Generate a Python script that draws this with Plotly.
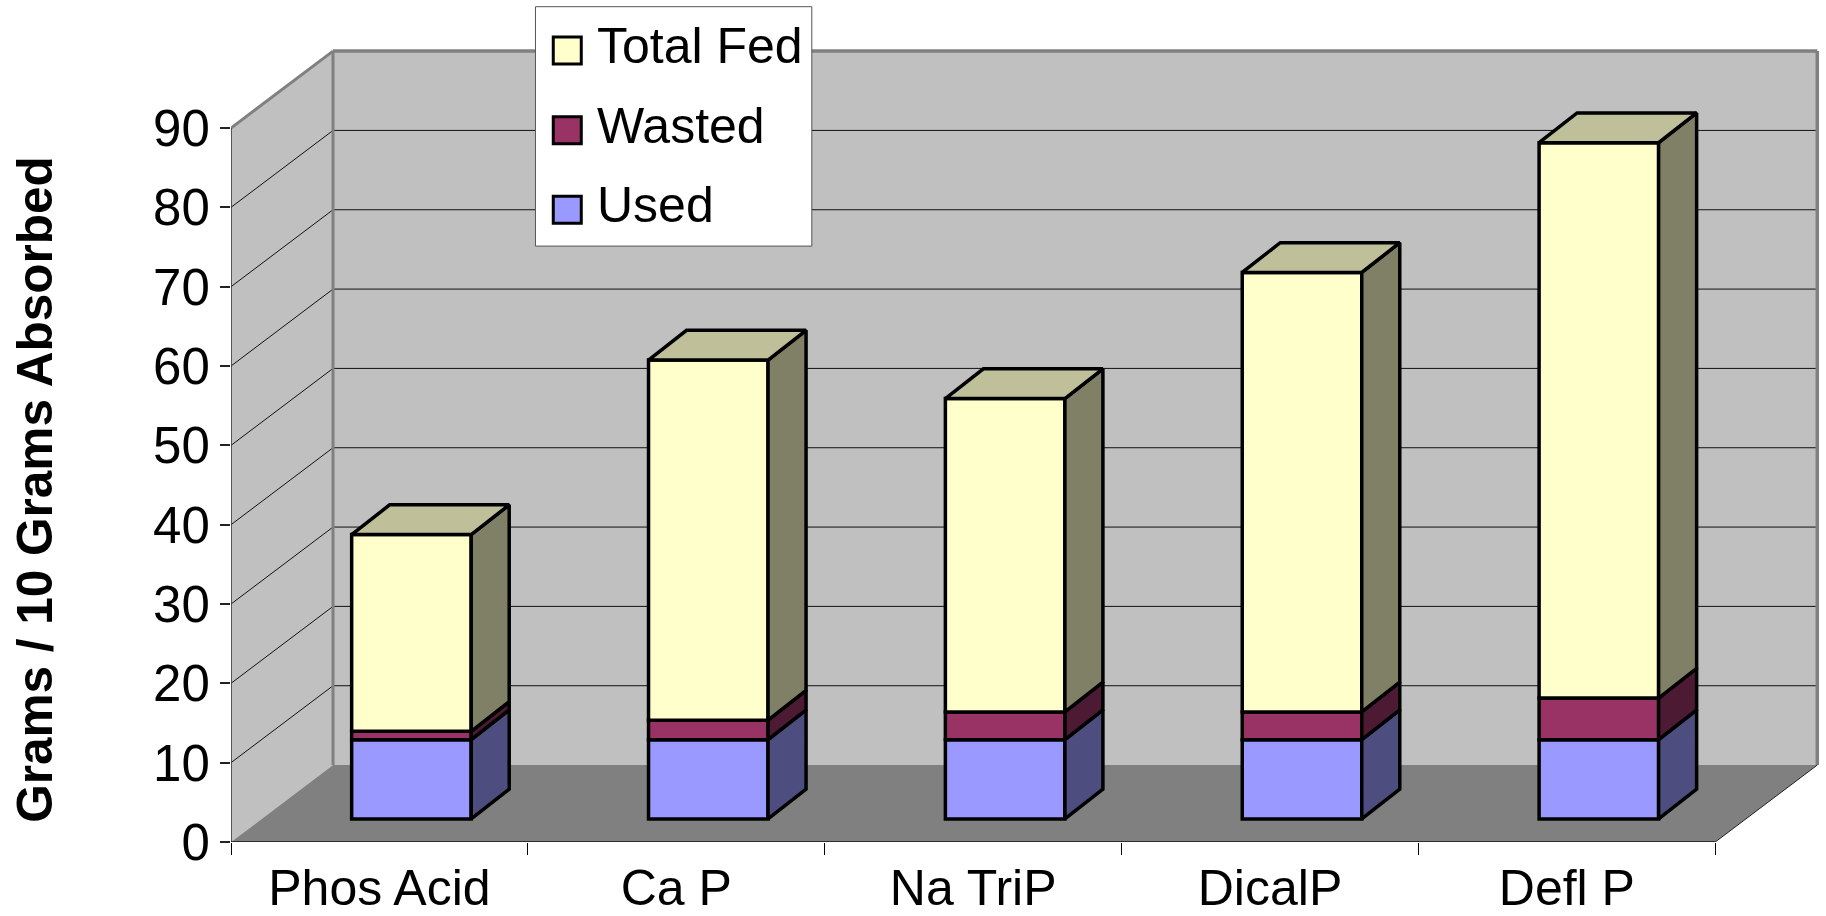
import plotly.graph_objects as go

categories = ["Phos Acid", "Ca P", "Na TriP", "DicalP", "Defl P"]
used = [10.0, 10.0, 10.0, 10.0, 10.0]
wasted = [1.05, 2.45, 3.5, 3.5, 5.25]
total_fed = [24.8, 45.4, 39.5, 55.4, 70.0]
y_ticks = [0, 10, 20, 30, 40, 50, 60, 70, 80, 90]
series_names = ["Used", "Wasted", "Total Fed"]
front_colors = ["#9999FF", "#993366", "#FFFFCC"]
side_colors = ["#4D4D80", "#4D1A33", "#808066"]
top_color = "#BFBF99"

# geometry of the oblique plot box
W, H = 1826, 916
L, B_PX = 231.3, 841.7
UX, UY = 296.8, 7.93          # px per category, px per value unit
WALL_DX, WALL_DY = 102 / UX, 9.7
OFF_X, OFF_Y = 32 / UX, 2.9
BAR_W = 119.5 / UX
BAR_DX, BAR_DY = 38 / UX, 3.75
FONT = "Liberation Sans"
N = len(categories)
Y_MAX = y_ticks[-1]
EDGE = 3.5


def px(x):
    return (x - L) / (W - L)


def py(y):
    return (B_PX - y) / B_PX


fig = go.Figure()

# front faces
centers = [i + 0.5 + OFF_X for i in range(N)]
bottoms = [OFF_Y] * N
stack = []
for name, vals, col in zip(series_names, [used, wasted, total_fed], front_colors):
    fig.add_bar(
        x=centers, y=vals, base=list(bottoms), width=BAR_W, name=name,
        marker=dict(color=col, line=dict(color="black", width=EDGE)),
        showlegend=False,
    )
    stack.append((list(bottoms), [b + v for b, v in zip(bottoms, vals)]))
    bottoms = [b + v for b, v in zip(bottoms, vals)]

# side faces
for (lo, hi), name, col in zip(stack, series_names, side_colors):
    xs, ys = [], []
    for c, a, b in zip(centers, lo, hi):
        r = c + BAR_W / 2
        xs += [r, r + BAR_DX, r + BAR_DX, r, r, None]
        ys += [a, a + BAR_DY, b + BAR_DY, b, a, None]
    fig.add_scatter(x=xs, y=ys, mode="lines", fill="toself", fillcolor=col,
                    line=dict(color="black", width=EDGE), name=name + " side",
                    showlegend=False, hoverinfo="skip")

# top faces
xs, ys = [], []
for c, t in zip(centers, stack[-1][1]):
    l, r = c - BAR_W / 2, c + BAR_W / 2
    xs += [l, r, r + BAR_DX, l + BAR_DX, l, None]
    ys += [t, t, t + BAR_DY, t + BAR_DY, t, None]
fig.add_scatter(x=xs, y=ys, mode="lines", fill="toself", fillcolor=top_color,
                line=dict(color="black", width=EDGE), name="top",
                showlegend=False, hoverinfo="skip")

shapes = []


def poly(points, fill, line_color=None, line_width=0, layer="below"):
    path = "M" + " L".join(f"{x},{y}" for x, y in points) + " Z"
    shapes.append(dict(type="path", path=path, xref="x", yref="y", fillcolor=fill,
                       line=dict(color=line_color or fill, width=line_width), layer=layer))


def seg(x0, y0, x1, y1, color="black", width=1):
    shapes.append(dict(type="line", x0=x0, y0=y0, x1=x1, y1=y1, xref="x", yref="y",
                       line=dict(color=color, width=width), layer="below"))


# walls and floor
poly([(WALL_DX, WALL_DY), (N + WALL_DX, WALL_DY), (N + WALL_DX, Y_MAX + WALL_DY),
      (WALL_DX, Y_MAX + WALL_DY)], "#C0C0C0")
poly([(0, 0), (WALL_DX, WALL_DY), (WALL_DX, Y_MAX + WALL_DY), (0, Y_MAX)], "#C0C0C0")
poly([(0, 0), (N, 0), (N + WALL_DX, WALL_DY), (WALL_DX, WALL_DY)], "#808080")

# gridlines
for v in y_ticks[1:-1]:
    seg(WALL_DX, v + WALL_DY, N + WALL_DX, v + WALL_DY, "#111111", 1)
    seg(0, v, WALL_DX, v + WALL_DY, "#111111", 1)

# box edges
GRAY = "#808080"
seg(WALL_DX, WALL_DY, WALL_DX, Y_MAX + WALL_DY, GRAY, 3)
seg(WALL_DX, Y_MAX + WALL_DY, N + WALL_DX, Y_MAX + WALL_DY, GRAY, 3.5)
seg(N + WALL_DX, WALL_DY, N + WALL_DX, Y_MAX + WALL_DY, GRAY, 3.5)
seg(0, Y_MAX, WALL_DX, Y_MAX + WALL_DY, GRAY, 3)
seg(0, 0, 0, Y_MAX, "#333333", 1.5)
seg(0, 0, N, 0, "#111111", 1.5)
seg(N, 0, N + WALL_DX, WALL_DY, "#222222", 1)

# legend
LEG = dict(left=535.7, right=812, top=6.7, bottom=246)
shapes.append(dict(type="rect", xref="paper", yref="paper", x0=px(LEG["left"]), x1=px(LEG["right"]),
                   y0=py(LEG["top"]), y1=py(LEG["bottom"]), fillcolor="white",
                   line=dict(color="#555555", width=1), layer="above"))
annotations = []
for k, (name, col) in enumerate(zip(series_names[::-1], front_colors[::-1])):
    sw_top = 36 + k * 79.6
    shapes.append(dict(type="rect", xref="paper", yref="paper", x0=px(553.5), x1=px(581.5),
                       y0=py(sw_top + 1), y1=py(sw_top + 28), fillcolor=col,
                       line=dict(color="black", width=3), layer="above"))
    annotations.append(dict(text=name, xref="paper", yref="paper", x=px(595), y=py(46 + k * 79.6),
                            xanchor="left", yanchor="middle", showarrow=False,
                            font=dict(family=FONT, size=50, color="black")))

annotations.append(dict(text="<b>Grams / 10 Grams Absorbed</b>", xref="paper", yref="paper",
                        x=px(35), y=py(489), textangle=-90, xanchor="center", yanchor="middle",
                        showarrow=False, font=dict(family=FONT, size=49.5, color="black")))

fig.update_layout(
    width=W, height=H, autosize=False,
    margin=dict(l=L, r=0, t=0, b=H - B_PX, pad=0, autoexpand=False),
    paper_bgcolor="white", plot_bgcolor="white",
    barmode="overlay", showlegend=False,
    shapes=shapes, annotations=annotations,
    xaxis=dict(
        range=[0, (W - L) / UX], showgrid=False, zeroline=False, showline=False,
        automargin=False,
        tickmode="array", tickvals=[i + 0.5 for i in range(N)], ticktext=categories,
        ticks="outside", ticklen=2, tickcolor="rgba(0,0,0,0)",
        tickfont=dict(family=FONT, size=50, color="black"),
        minor=dict(tickmode="array", tickvals=list(range(N + 1)), ticks="outside",
                   ticklen=12, tickcolor="black", tickwidth=1, showgrid=False),
    ),
    yaxis=dict(
        range=[0, B_PX / UY], showgrid=False, zeroline=False, showline=False,
        automargin=False,
        tickmode="array", tickvals=y_ticks, ticks="outside", ticklen=10, tickcolor="#222222",
        tickwidth=1.5, tickfont=dict(family=FONT, size=51, color="black"),
    ),
)

fig.write_html("out.html", config=dict(displayModeBar=False),
               post_script="document.body.style.margin='0';document.body.style.overflow='hidden';")
